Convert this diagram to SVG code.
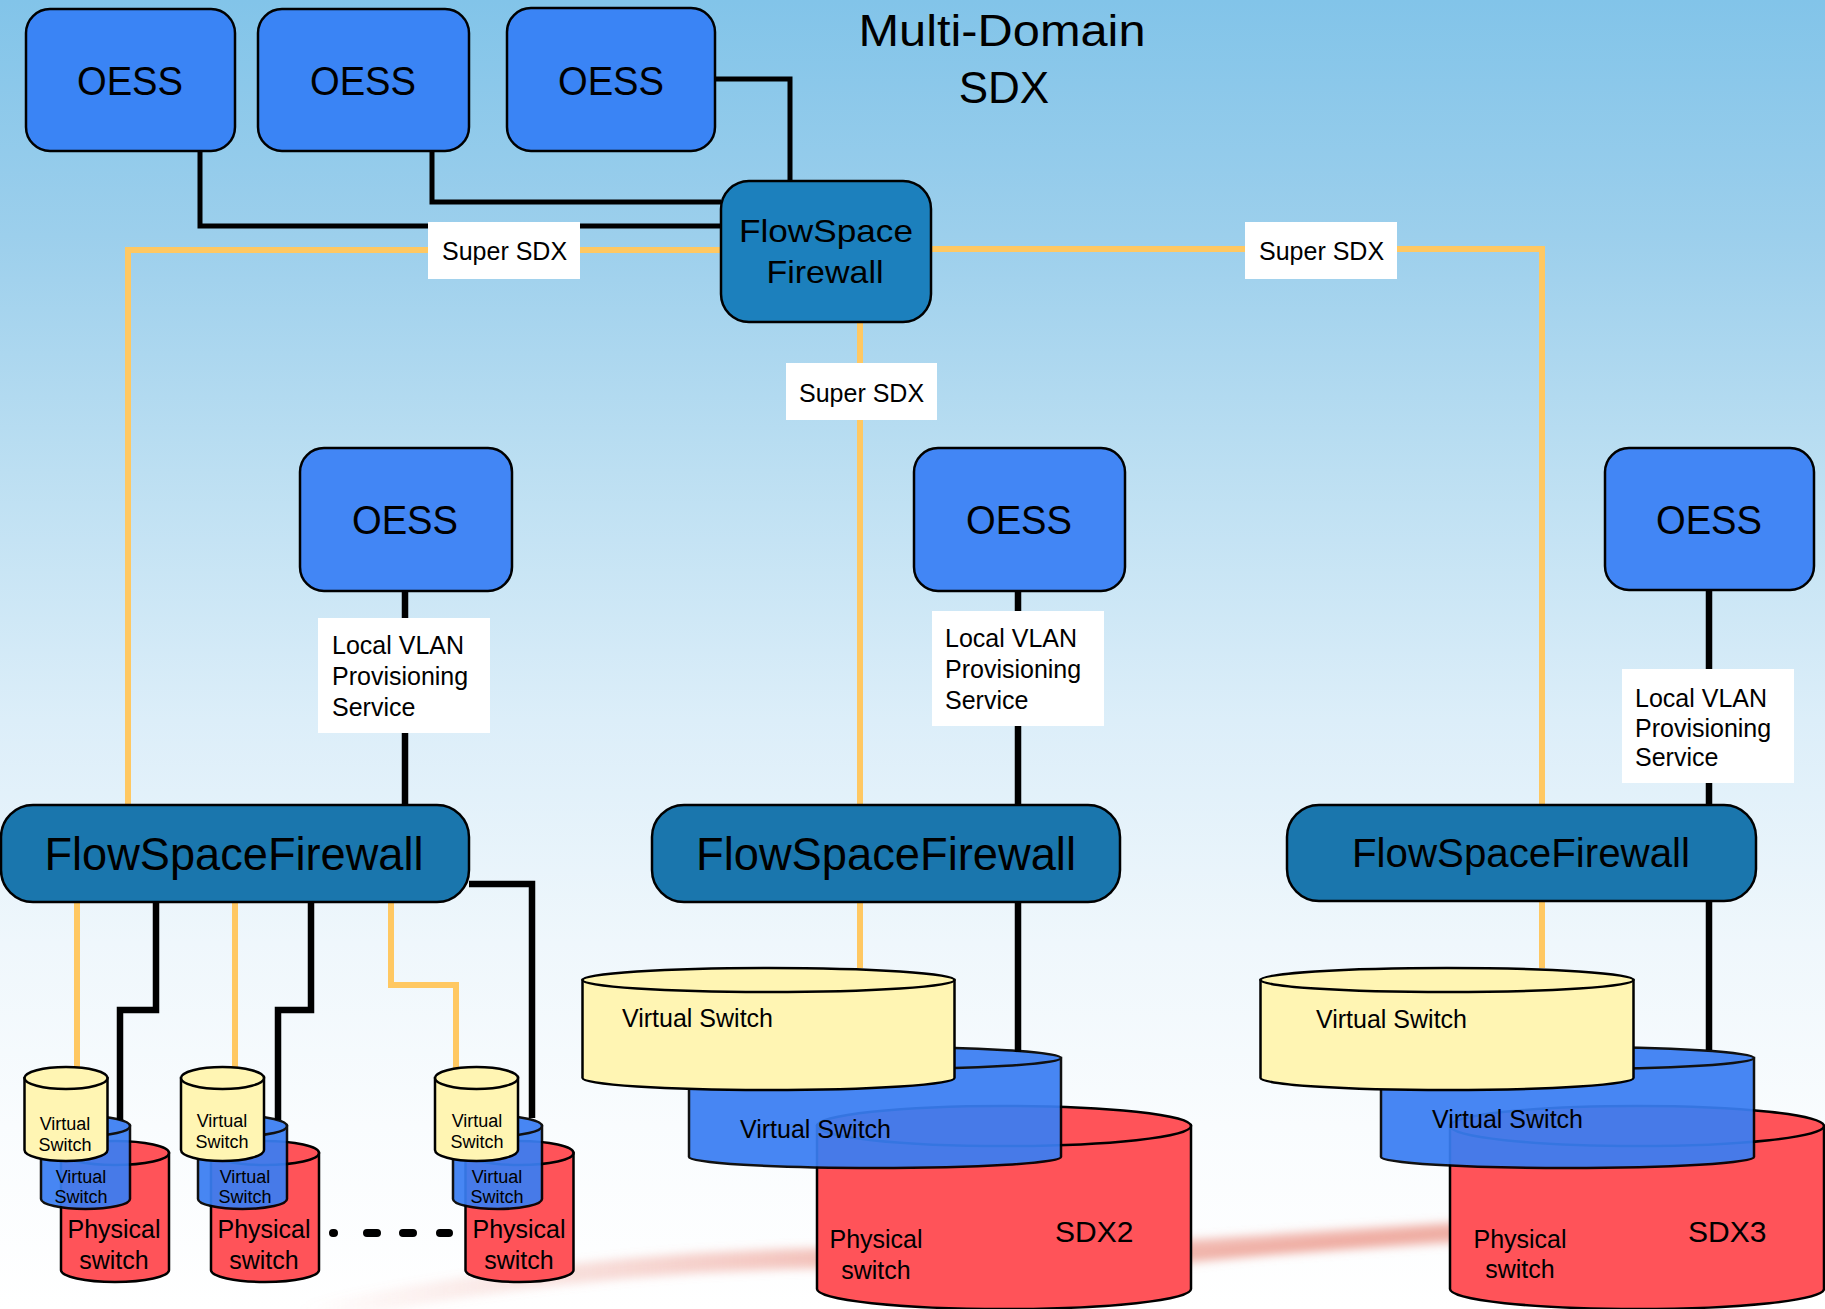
<svg xmlns="http://www.w3.org/2000/svg" width="1825" height="1309" viewBox="0 0 1825 1309">
<defs>
<linearGradient id="bg" x1="0" y1="0" x2="0" y2="1">
<stop offset="0" stop-color="#82C4E9"/>
<stop offset="0.18" stop-color="#9CCFEC"/>
<stop offset="0.36" stop-color="#BCDFF2"/>
<stop offset="0.55" stop-color="#DCEEF9"/>
<stop offset="0.72" stop-color="#EFF7FC"/>
<stop offset="0.86" stop-color="#F9FCFE"/>
<stop offset="1" stop-color="#FFFFFF"/>
</linearGradient>
<linearGradient id="sw" gradientUnits="userSpaceOnUse" x1="300" y1="0" x2="900" y2="0">
<stop offset="0" stop-color="#E98A7C" stop-opacity="0"/>
<stop offset="1" stop-color="#E98A7C" stop-opacity="0.6"/>
</linearGradient>
<filter id="soft" x="-10%" y="-100%" width="120%" height="300%"><feGaussianBlur stdDeviation="5"/></filter>
<style>
text{font-family:"Liberation Sans",Arial,sans-serif;fill:#000}
.oess rect{fill:#3A84F5;stroke:#000;stroke-width:2.5}
.fsf rect{fill:#1A76AD;stroke:#000;stroke-width:2.5}
.top rect{fill:#1C80BD}
.lbl{fill:#fff}
.or{fill:none;stroke:#FFC862;stroke-width:6}
.bk{fill:none;stroke:#000;stroke-width:6.5}
.bkt{fill:none;stroke:#000;stroke-width:5}
.y{fill:#FFF5B3;stroke:#000;stroke-width:2.5}
.b{fill:#3A7EF3;stroke:#000;stroke-width:2.5}
.r{fill:#FF5359;stroke:#000;stroke-width:2.5}
.c{text-anchor:middle}
</style>
</defs>
<rect width="1825" height="1309" fill="url(#bg)"/>
<g id="background-swoosh" filter="url(#soft)" fill="none">
<path d="M290,1318 Q560,1262 830,1258 Q1000,1256 1190,1250 Q1450,1232 1825,1210" stroke="url(#sw)" stroke-width="20"/>
<path d="M1100,1270 Q1300,1245 1460,1232" stroke="#E98A7C" stroke-opacity="0.3" stroke-width="10"/>
</g>

<g id="connectors">
<path class="or" d="M721,250 H128 V805"/>
<path class="or" d="M931,249 H1542 V968"/>
<path class="or" d="M860,322 V968"/>
<path class="bkt" d="M715,79 H790 V181"/>
<path class="bkt" d="M432,151 V202 H721"/>
<path class="bkt" d="M200,151 V226 H721"/>
<path class="bk" d="M405,591 V805"/>
<path class="bk" d="M1018,591 V1052"/>
<path class="bk" d="M1709,591 V1050"/>
<path class="or" d="M77,902 V1068"/>
<path class="bk" d="M156,902 V1010 H120 V1120"/>
<path class="or" d="M235,902 V1068"/>
<path class="bk" d="M311,902 V1010 H278 V1120"/>
<path class="or" d="M391,902 V985 H456 V1068"/>
<path class="bk" d="M469,884 H532 V1118"/>
<path d="M333,1233 h1 M367,1233 h10 M403,1233 h10 M440,1233 h9" fill="none" stroke="#000" stroke-width="8" stroke-linecap="round"/>
<g id="label-super-left"><rect class="lbl" x="428" y="222" width="152" height="57"/><text x="442" y="260" font-size="25">Super SDX</text></g>
<g id="label-super-right"><rect class="lbl" x="1245" y="222" width="152" height="57"/><text x="1259" y="260" font-size="25">Super SDX</text></g>
<g id="label-super-mid"><rect class="lbl" x="786" y="363" width="151" height="57"/><text x="799" y="402" font-size="25">Super SDX</text></g>
<g id="label-vlan1"><rect class="lbl" x="318" y="618" width="172" height="115"/><text x="332" y="654" font-size="25">Local VLAN</text><text x="332" y="685" font-size="25">Provisioning</text><text x="332" y="716" font-size="25">Service</text></g>
<g id="label-vlan2"><rect class="lbl" x="932" y="611" width="172" height="115"/><text x="945" y="647" font-size="25">Local VLAN</text><text x="945" y="678" font-size="25">Provisioning</text><text x="945" y="709" font-size="25">Service</text></g>
<g id="label-vlan3"><rect class="lbl" x="1622" y="669" width="172" height="114"/><text x="1635" y="707" font-size="25">Local VLAN</text><text x="1635" y="737" font-size="25">Provisioning</text><text x="1635" y="766" font-size="25">Service</text></g>
</g>

<g id="title"><text class="c" x="1002" y="46" font-size="44" textLength="287" lengthAdjust="spacingAndGlyphs">Multi-Domain</text><text class="c" x="1004" y="103" font-size="44">SDX</text></g>

<g id="oess-1" class="oess"><rect x="26" y="9" width="209" height="142" rx="24"/><text class="c" x="130" y="95" font-size="41" textLength="106" lengthAdjust="spacingAndGlyphs">OESS</text></g>
<g id="oess-2" class="oess"><rect x="258" y="9" width="211" height="142" rx="24"/><text class="c" x="363" y="95" font-size="41" textLength="106" lengthAdjust="spacingAndGlyphs">OESS</text></g>
<g id="oess-3" class="oess"><rect x="507" y="8" width="208" height="143" rx="24"/><text class="c" x="611" y="95" font-size="41" textLength="106" lengthAdjust="spacingAndGlyphs">OESS</text></g>
<g id="fsf-top" class="fsf top"><rect x="721" y="181" width="210" height="141" rx="28"/><text class="c" x="826" y="242" font-size="32" textLength="174" lengthAdjust="spacingAndGlyphs">FlowSpace</text><text class="c" x="825" y="283" font-size="32" textLength="117" lengthAdjust="spacingAndGlyphs">Firewall</text></g>

<g id="oess-4" class="oess"><rect x="300" y="448" width="212" height="143" rx="24" style="fill:#4286F5"/><text class="c" x="405" y="534" font-size="41" textLength="106" lengthAdjust="spacingAndGlyphs">OESS</text></g>
<g id="oess-5" class="oess"><rect x="914" y="448" width="211" height="143" rx="24" style="fill:#4286F5"/><text class="c" x="1019" y="534" font-size="41" textLength="106" lengthAdjust="spacingAndGlyphs">OESS</text></g>
<g id="oess-6" class="oess"><rect x="1605" y="448" width="209" height="142" rx="24" style="fill:#4286F5"/><text class="c" x="1709" y="534" font-size="41" textLength="106" lengthAdjust="spacingAndGlyphs">OESS</text></g>

<g id="fsf-1" class="fsf"><rect x="1" y="805" width="468" height="97" rx="32"/><text class="c" x="234" y="870" font-size="45.5" textLength="379" lengthAdjust="spacingAndGlyphs">FlowSpaceFirewall</text></g>
<g id="fsf-2" class="fsf"><rect x="652" y="805" width="468" height="97" rx="32"/><text class="c" x="886" y="870" font-size="45.5" textLength="380" lengthAdjust="spacingAndGlyphs">FlowSpaceFirewall</text></g>
<g id="fsf-3" class="fsf"><rect x="1287" y="805" width="469" height="96" rx="32"/><text class="c" x="1521" y="867" font-size="41" textLength="338" lengthAdjust="spacingAndGlyphs">FlowSpaceFirewall</text></g>

<g id="switch-group-1">
<path class="r" d="M61,1153 V1270 A54,12 0 0 0 169,1270 V1153 Z"/><ellipse class="r" cx="115" cy="1153" rx="54" ry="12"/>
<g opacity="0.93"><path class="b" d="M41,1126 V1199 A44.5,10 0 0 0 130,1199 V1126 Z"/><ellipse class="b" cx="85.5" cy="1126" rx="44.5" ry="10"/></g>
<path class="y" d="M24.5,1078 V1150 A41.5,11 0 0 0 107.5,1150 V1078 Z"/><ellipse class="y" cx="66" cy="1078" rx="41.5" ry="11"/>
<text class="c" x="65" y="1130" font-size="18">Virtual</text><text class="c" x="65" y="1151" font-size="18">Switch</text>
<text class="c" x="81" y="1183" font-size="18">Virtual</text><text class="c" x="81" y="1203" font-size="18">Switch</text>
<text class="c" x="114" y="1238" font-size="25">Physical</text><text class="c" x="114" y="1269" font-size="25">switch</text>
</g>
<g id="switch-group-2">
<path class="r" d="M211,1153 V1270 A54,12 0 0 0 319,1270 V1153 Z"/><ellipse class="r" cx="265" cy="1153" rx="54" ry="12"/>
<g opacity="0.93"><path class="b" d="M198,1126 V1199 A44.5,10 0 0 0 287,1199 V1126 Z"/><ellipse class="b" cx="242.5" cy="1126" rx="44.5" ry="10"/></g>
<path class="y" d="M181,1078 V1150 A41.5,11 0 0 0 264,1150 V1078 Z"/><ellipse class="y" cx="222.5" cy="1078" rx="41.5" ry="11"/>
<text class="c" x="222" y="1127" font-size="18">Virtual</text><text class="c" x="222" y="1148" font-size="18">Switch</text>
<text class="c" x="245" y="1183" font-size="18">Virtual</text><text class="c" x="245" y="1203" font-size="18">Switch</text>
<text class="c" x="264" y="1238" font-size="25">Physical</text><text class="c" x="264" y="1269" font-size="25">switch</text>
</g>
<g id="switch-group-3">
<path class="r" d="M465.5,1153 V1270 A54,12 0 0 0 573.5,1270 V1153 Z"/><ellipse class="r" cx="519.5" cy="1153" rx="54" ry="12"/>
<g opacity="0.93"><path class="b" d="M453,1126 V1199 A44.5,10 0 0 0 542,1199 V1126 Z"/><ellipse class="b" cx="497.5" cy="1126" rx="44.5" ry="10"/></g>
<path class="y" d="M435,1078 V1150 A41.5,11 0 0 0 518,1150 V1078 Z"/><ellipse class="y" cx="476.5" cy="1078" rx="41.5" ry="11"/>
<text class="c" x="477" y="1127" font-size="18">Virtual</text><text class="c" x="477" y="1148" font-size="18">Switch</text>
<text class="c" x="497" y="1183" font-size="18">Virtual</text><text class="c" x="497" y="1203" font-size="18">Switch</text>
<text class="c" x="519" y="1238" font-size="25">Physical</text><text class="c" x="519" y="1269" font-size="25">switch</text>
</g>

<g id="sdx2">
<path class="r" d="M817,1126 V1289 A187,20 0 0 0 1191,1289 V1126 Z"/><ellipse class="r" cx="1004" cy="1126" rx="187" ry="20"/>
<g opacity="0.93"><path class="b" d="M689,1058 V1157 A186,11 0 0 0 1061,1157 V1058 Z"/><ellipse class="b" cx="875" cy="1058" rx="186" ry="11"/></g>
<path class="y" d="M582.5,980 V1078 A186,12 0 0 0 954.5,1078 V980 Z"/><ellipse class="y" cx="768.5" cy="980" rx="186" ry="12"/>
<text x="622" y="1027" font-size="25">Virtual Switch</text>
<text x="740" y="1138" font-size="25">Virtual Switch</text>
<text class="c" x="876" y="1248" font-size="25">Physical</text><text class="c" x="876" y="1279" font-size="25">switch</text>
<text x="1055" y="1242" font-size="30">SDX2</text>
</g>
<g id="sdx3">
<path class="r" d="M1450,1126 V1289 A187,20 0 0 0 1824,1289 V1126 Z"/><ellipse class="r" cx="1637" cy="1126" rx="187" ry="20"/>
<g opacity="0.93"><path class="b" d="M1381,1058 V1157 A186.5,11 0 0 0 1754,1157 V1058 Z"/><ellipse class="b" cx="1567.5" cy="1058" rx="186.5" ry="11"/></g>
<path class="y" d="M1260.5,980 V1078 A186.5,12 0 0 0 1633.5,1078 V980 Z"/><ellipse class="y" cx="1447" cy="980" rx="186.5" ry="12"/>
<text x="1316" y="1028" font-size="25">Virtual Switch</text>
<text x="1432" y="1128" font-size="25">Virtual Switch</text>
<text class="c" x="1520" y="1248" font-size="25">Physical</text><text class="c" x="1520" y="1278" font-size="25">switch</text>
<text x="1688" y="1242" font-size="30">SDX3</text>
</g>
</svg>
